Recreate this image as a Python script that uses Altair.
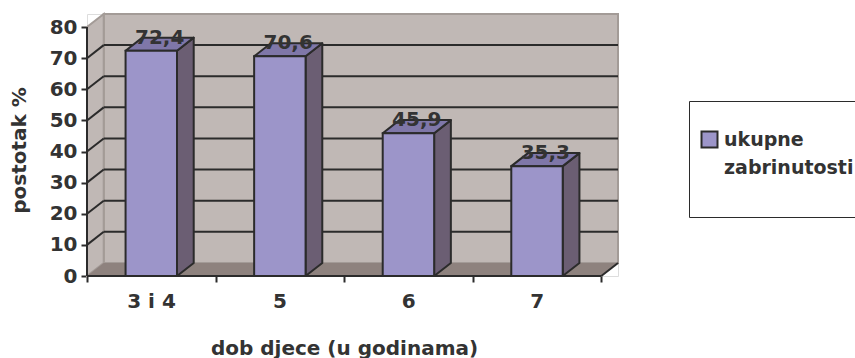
import altair as alt
import pandas as pd

# ---- data ----
categories = ['3 i 4', '5', '6', '7']
values = [72.4, 70.6, 45.9, 35.3]
value_labels = ['72,4', '70,6', '45,9', '35,3']
y_ticks = [0, 10, 20, 30, 40, 50, 60, 70, 80]
series_name = 'ukupne zabrinutosti'
legend_lines = ['ukupne', 'zabrinutosti', '']
x_title = 'dob djece (u godinama)'
y_title = 'postotak %'

# ---- 3D look (data units) ----
DX = 0.13      # depth along x, in category units
DY = 4.2       # depth along y, in value units
B0, B1 = 0.3, 0.7
YMAX = y_ticks[-1]
N = len(categories)

FONT = 'DejaVu Sans'
TXT = '#333333'
DARK = '#2b2b2b'
WALL = '#c0b8b5'
WALL_EDGE = '#a39b97'
FLOOR = '#8e827e'
FRONT = '#9c95c9'
SIDE = '#6b5e73'
TOP = '#7f77a8'

xs = alt.Scale(domain=[0, N + DX], nice=False, zero=False)
ys = alt.Scale(domain=[0, YMAX + DY], nice=False, zero=False)

label_arr = '[' + ','.join("'" + c + "'" for c in categories) + ']'
x_axis = alt.Axis(
    values=list(range(N + 1)), domain=False, grid=False,
    tickColor=DARK, tickWidth=2, tickSize=6,
    labelExpr=f"datum.value < {N} ? {label_arr}[datum.value] : ''",
    labelOffset=64, labelFlush=False, labelOverlap=False,
    labelFont=FONT, labelFontSize=20, labelFontWeight='bold', labelColor=TXT,
    labelPadding=9,
    title=x_title, titleFont=FONT, titleFontSize=20, titleFontWeight='bold',
    titleColor=TXT, titleX=257, titleY=78, titleAlign='center',
    titleBaseline='alphabetic', titleAnchor='start')
y_axis = alt.Axis(
    values=y_ticks, domain=False, grid=False,
    tickColor=DARK, tickWidth=2, tickSize=6,
    labelFont=FONT, labelFontSize=20, labelFontWeight='bold', labelColor=TXT,
    labelPadding=4,
    title=y_title, titleFont=FONT, titleFontSize=20, titleFontWeight='bold',
    titleColor=TXT, titleX=-68, titleY=136, titleAngle=270,
    titleAlign='center', titleBaseline='middle', titleAnchor='start')


def X(field):
    return alt.X(field, scale=xs, axis=x_axis)


def Y(field):
    return alt.Y(field, scale=ys, axis=y_axis)


# back wall
back = pd.DataFrame({'x': [DX], 'x2': [N + DX], 'y': [DY], 'y2': [YMAX + DY]})
back_l = alt.Chart(back).mark_rect(fill=WALL, stroke=WALL_EDGE, strokeWidth=2).encode(
    x=X('x:Q'), x2='x2', y=Y('y:Q'), y2='y2')

# side wall
side = pd.DataFrame({'x': [0, DX], 'y': [0, DY], 'y2': [YMAX, YMAX + DY]})
side_l = alt.Chart(side).mark_area(orient='vertical', fill=WALL, stroke=WALL_EDGE,
                                   strokeWidth=2).encode(
    x=X('x:Q'), y=Y('y:Q'), y2='y2')

# floor
floor = pd.DataFrame({'x': [0, DX, N, N + DX], 'y': [0, 0, 0, DY], 'y2': [0, DY, DY, DY]})
floor_l = alt.Chart(floor).mark_area(orient='vertical', fill=FLOOR).encode(
    x=X('x:Q'), y=Y('y:Q'), y2='y2')

# gridlines on back wall and side wall
grid_vals = y_ticks[1:-1]
gback = pd.DataFrame({'x': [DX] * len(grid_vals), 'x2': [N + DX] * len(grid_vals),
                      'y': [v + DY for v in grid_vals]})
gback_l = alt.Chart(gback).mark_rule(color=DARK, strokeWidth=2).encode(
    x=X('x:Q'), x2='x2', y=Y('y:Q'))
gside = pd.DataFrame({'x': [0] * len(grid_vals), 'x2': [DX] * len(grid_vals),
                      'y': grid_vals, 'y2': [v + DY for v in grid_vals]})
gside_l = alt.Chart(gside).mark_rule(color=DARK, strokeWidth=2).encode(
    x=X('x:Q'), x2='x2', y=Y('y:Q'), y2='y2')

# axis lines (front y axis, floor front edge, floor right edge)
axl = pd.DataFrame({'x': [0, 0, N], 'x2': [0, N, N + DX],
                    'y': [0, 0, 0], 'y2': [YMAX, 0, DY]})
axl_l = alt.Chart(axl).mark_rule(color=DARK, strokeWidth=2).encode(
    x=X('x:Q'), x2='x2', y=Y('y:Q'), y2='y2')

# bars
idx = list(range(N))
bars = pd.DataFrame({'cat': categories, 'xl': [i + B0 for i in idx],
                     'xr': [i + B1 for i in idx], 'v': values,
                     'serija': [series_name] * N})

side_rows, top_rows = [], []
for i, v in zip(idx, values):
    xl, xr = i + B0, i + B1
    side_rows += [{'bar': i, 'x': xr, 'y': v, 'y2': 0},
                  {'bar': i, 'x': xr + DX, 'y': v + DY, 'y2': DY}]
    top_rows += [{'bar': i, 'x': xl, 'y': v, 'y2': v},
                 {'bar': i, 'x': xl + DX, 'y': v + DY, 'y2': v},
                 {'bar': i, 'x': xr, 'y': v + DY, 'y2': v},
                 {'bar': i, 'x': xr + DX, 'y': v + DY, 'y2': v + DY}]
bside = pd.DataFrame(side_rows)
btop = pd.DataFrame(top_rows)

bside_l = alt.Chart(bside).mark_area(orient='vertical', fill=SIDE, stroke=DARK,
                                     strokeWidth=2, strokeJoin='round').encode(
    x=X('x:Q'), y=Y('y:Q'), y2='y2', detail='bar:N')
btop_l = alt.Chart(btop).mark_area(orient='vertical', fill=TOP, stroke=DARK,
                                   strokeWidth=2, strokeJoin='round').encode(
    x=X('x:Q'), y=Y('y:Q'), y2='y2', detail='bar:N')

legend_expr = '[' + ','.join("'" + s + "'" for s in legend_lines) + ']'
legend = alt.Legend(
    orient='none', legendX=602, legendY=87, title=' ', titleFontSize=8,
    titlePadding=10, padding=11, strokeColor=DARK, fillColor='white',
    symbolType='square', symbolSize=256, symbolStrokeColor=DARK,
    symbolStrokeWidth=2, symbolFillColor=FRONT,
    labelExpr=legend_expr, labelFont=FONT, labelFontSize=19,
    labelFontWeight='bold', labelColor=TXT, labelLimit=400, labelOffset=5,
    labelBaseline='middle')

bfront_l = alt.Chart(bars).mark_rect(stroke=DARK, strokeWidth=2).encode(
    x=X('xl:Q'), x2='xr', y=Y('v:Q'), y2=alt.datum(0),
    color=alt.Color('serija:N', scale=alt.Scale(range=[FRONT]), legend=legend))

labels = pd.DataFrame({'x': [i + 0.5 + DX / 2 for i in idx],
                       'y': [v + DY for v in values], 't': value_labels})
text_l = alt.Chart(labels).mark_text(font=FONT, fontSize=20, fontWeight='bold',
                                     color=TXT, baseline='middle').encode(
    x=X('x:Q'), y=Y('y:Q'), text='t:N')

chart = alt.layer(back_l, side_l, floor_l, gback_l, gside_l, axl_l,
                  bside_l, btop_l, bfront_l, text_l).properties(
    width=531, height=262,
    autosize=alt.AutoSizeParams(type='none'),
    padding={'left': 87, 'top': 14, 'right': 237, 'bottom': 82},
    background='white'
).configure_view(strokeWidth=0).configure(
    style={'guide-label': {'lineHeight': 28}})

chart.save('out.html', embed_options={'renderer': 'svg', 'actions': False})
